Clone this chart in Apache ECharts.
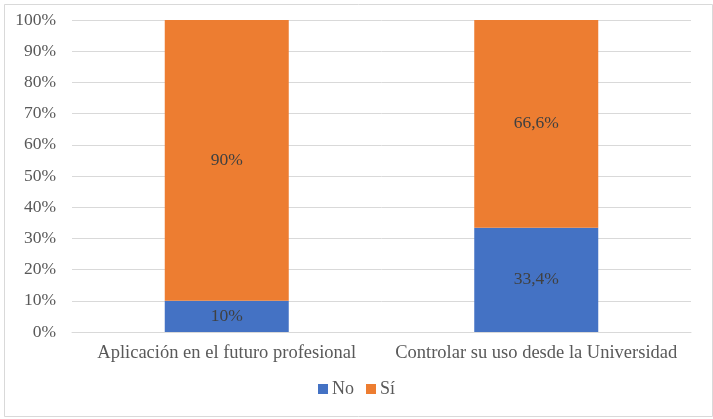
<!DOCTYPE html>
<html><head><meta charset="utf-8">
<script src="https://cdn.jsdelivr.net/npm/echarts@6/dist/echarts.min.js"></script>
<style>html,body{margin:0;padding:0;background:#fff}#c{width:713px;height:419px}</style>
</head><body><div id="c"></div>
<script>
const categories = ["Aplicación en el futuro profesional", "Controlar su uso desde la Universidad"];
const noValues = [10, 33.4];
const siValues = [90, 66.6];
const noLabels = ["10%", "33,4%"];
const siLabels = ["90%", "66,6%"];
const seriesNames = ["No", "Sí"];

const font = "'Liberation Serif', 'Times New Roman', serif";
const chart = echarts.init(document.getElementById('c'), null, {renderer: 'canvas'});
chart.setOption({
  animation: false,
  backgroundColor: '#fff',
  graphic: [{
    type: 'rect', left: 2, top: 2,
    shape: {width: 708, height: 412},
    style: {fill: 'none', stroke: '#d9d9d9', lineWidth: 1}
  }],
  grid: {left: 72, right: 22, top: 20, bottom: 87},
  legend: {
    bottom: 16, left: 'center',
    data: seriesNames,
    itemWidth: 10, itemHeight: 10, itemGap: 12,
    icon: 'rect',
    textStyle: {fontFamily: font, fontSize: 18, color: '#595959', padding: [0,0,0,-1]}
  },
  xAxis: {
    type: 'category', data: categories,
    axisLine: {show: true, lineStyle: {color: '#d9d9d9'}},
    axisTick: {show: false},
    axisLabel: {interval: 0, hideOverlap: false, fontFamily: font, fontSize: 18.5, color: '#595959', margin: 12}
  },
  yAxis: {
    type: 'value', min: 0, max: 100, interval: 10,
    axisLine: {show: false}, axisTick: {show: false},
    splitLine: {lineStyle: {color: '#d9d9d9'}},
    axisLabel: {fontFamily: font, fontSize: 17.5, color: '#595959', margin: 16, formatter: v => v + '%'}
  },
  series: [
    {
      name: seriesNames[0], type: 'bar', stack: 's', barWidth: 124,
      data: noValues, itemStyle: {color: '#4472C4'},
      label: {show: true, position: 'inside', fontFamily: font, fontSize: 17.5, color: '#404040',
        formatter: p => noLabels[p.dataIndex]}
    },
    {
      name: seriesNames[1], type: 'bar', stack: 's', barWidth: 124,
      data: siValues, itemStyle: {color: '#ED7D31'},
      label: {show: true, position: 'inside', fontFamily: font, fontSize: 17.5, color: '#404040',
        formatter: p => siLabels[p.dataIndex]}
    }
  ]
});
</script></body></html>
